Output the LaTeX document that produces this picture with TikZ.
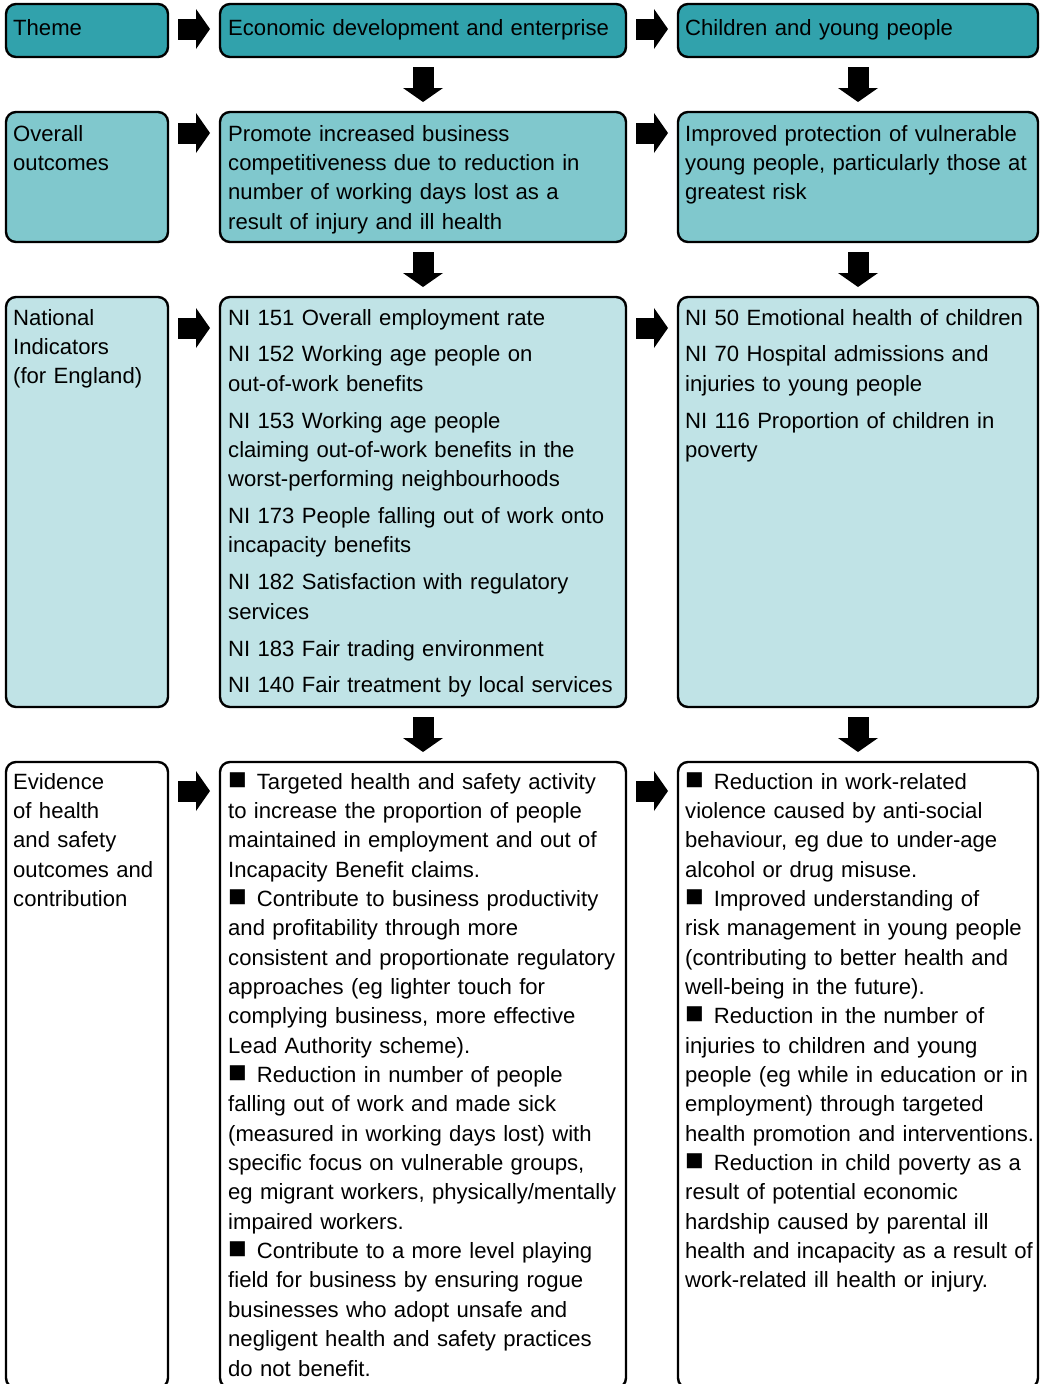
\documentclass[tikz,border=0pt]{standalone}
\usepackage{fontspec}
\setmainfont{Liberation Sans}
\usepackage{xcolor}
\usetikzlibrary{arrows.meta,positioning,calc}
\definecolor{hsteal}{HTML}{31A2AC}
\definecolor{hsmid}{HTML}{80C8CD}
\definecolor{hslight}{HTML}{C0E3E6}
\newcommand{\sqbul}{{\fontsize{31}{29.35}\selectfont ■}\hspace{10pt}}
\tikzset{
  cell/.style={draw=black, line width=2.4pt, rounded corners=10pt, inner sep=0pt, outer sep=0pt, anchor=north west},
  themebox/.style={cell, fill=hsteal, minimum height=53pt},
  outbox/.style={cell, fill=hsmid, minimum height=130pt},
  indbox/.style={cell, fill=hslight, minimum height=410pt},
  evbox/.style={cell, fill=white, minimum height=626pt},
  txt/.style={anchor=base west, inner sep=0pt, text width=420pt, align=left, font=\fontsize{22.1}{29.35}\selectfont},
  blk/.style={-{Triangle[length=14pt, width=40pt, line width=0pt]}, line width=21pt, shorten <=10pt, shorten >=10pt},
}

\begin{document}
\begin{tikzpicture}
  \useasboundingbox (0,0) rectangle (1040pt,-1384pt);
  % boxes, row by row
  \node[themebox, minimum width=162pt] (theme) at (6pt,-4pt) {};
  \node[themebox, minimum width=406pt, right=52pt of theme] (econ) {};
  \node[themebox, minimum width=360pt, right=52pt of econ] (child) {};
  \node[outbox, minimum width=162pt, below=55pt of theme] (outcomes) {};
  \node[outbox, minimum width=406pt, right=52pt of outcomes] (econout) {};
  \node[outbox, minimum width=360pt, right=52pt of econout] (childout) {};
  \node[indbox, minimum width=162pt, below=55pt of outcomes] (indic) {};
  \node[indbox, minimum width=406pt, right=52pt of indic] (econind) {};
  \node[indbox, minimum width=360pt, right=52pt of econind] (childind) {};
  \node[evbox, minimum width=162pt, below=55pt of indic] (evid) {};
  \node[evbox, minimum width=406pt, right=52pt of evid] (econev) {};
  \node[evbox, minimum width=360pt, right=52pt of econev] (childev) {};

  % texts
  \node[txt] (theme-t) at ($(theme.north west)+(7pt,-31pt)$) {Theme};
  \node[txt] (econ-t) at ($(econ.north west)+(8pt,-31pt)$) {Economic development and enterprise};
  \node[txt] (child-t) at ($(child.north west)+(7pt,-31pt)$) {Children and young people};

  \node[txt] (outcomes-t) at ($(outcomes.north west)+(7pt,-29pt)$) {Overall\\outcomes};
  \node[txt] (econout-t) at ($(econout.north west)+(8pt,-29pt)$) {Promote increased business\\competitiveness due to reduction in\\number of working days lost as a\\result of injury and ill health};
  \node[txt] (childout-t) at ($(childout.north west)+(7pt,-29pt)$) {Improved protection of vulnerable\\young people, particularly those at\\greatest risk};

  \node[txt] (indic-t) at ($(indic.north west)+(7pt,-28pt)$) {National\\Indicators\\(for England)};
  \node[txt] (econind-t) at ($(econind.north west)+(8pt,-28pt)$) {NI 151 Overall employment rate\\[7.5pt]
    NI 152 Working age people on\\out-of-work benefits\\[7.5pt]
    NI 153 Working age people\\claiming out-of-work benefits in the\\worst-performing neighbourhoods\\[7.5pt]
    NI 173 People falling out of work onto\\incapacity benefits\\[7.5pt]
    NI 182 Satisfaction with regulatory\\services\\[7.5pt]
    NI 183 Fair trading environment\\[7.5pt]
    NI 140 Fair treatment by local services};
  \node[txt] (childind-t) at ($(childind.north west)+(7pt,-28pt)$) {NI 50 Emotional health of children\\[7.5pt]
    NI 70 Hospital admissions and\\injuries to young people\\[7.5pt]
    NI 116 Proportion of children in\\poverty};

  \node[txt] (evid-t) at ($(evid.north west)+(7pt,-27pt)$) {Evidence\\of health\\and safety\\outcomes and\\contribution};
  \node[txt] (econev-t) at ($(econev.north west)+(8pt,-27pt)$) {\sqbul Targeted health and safety activity\\
    to increase the proportion of people\\maintained in employment and out of\\Incapacity Benefit claims.\\
    \sqbul Contribute to business productivity\\and profitability through more\\
    consistent and proportionate regulatory\\approaches (eg lighter touch for\\
    complying business, more effective\\Lead Authority scheme).\\
    \sqbul Reduction in number of people\\falling out of work and made sick\\
    (measured in working days lost) with\\specific focus on vulnerable groups,\\
    eg migrant workers, physically/mentally\\impaired workers.\\
    \sqbul Contribute to a more level playing\\field for business by ensuring rogue\\
    businesses who adopt unsafe and\\negligent health and safety practices\\do not benefit.};
  \node[txt] (childev-t) at ($(childev.north west)+(7pt,-27pt)$) {\sqbul Reduction in work-related\\
    violence caused by anti-social\\behaviour, eg due to under-age\\alcohol or drug misuse.\\
    \sqbul Improved understanding of\\risk management in young people\\
    (contributing to better health and\\well-being in the future).\\
    \sqbul Reduction in the number of\\injuries to children and young\\
    people (eg while in education or in\\employment) through targeted\\
    health promotion and interventions.\\
    \sqbul Reduction in child poverty as a\\result of potential economic\\
    hardship caused by parental ill\\health and incapacity as a result of\\
    work-related ill health or injury.};

  % arrows across
  \draw[blk] ($(theme.north east)+(0,-25pt)$) -- ($(econ.north west)+(0,-25pt)$);
  \draw[blk] ($(econ.north east)+(0,-25pt)$) -- ($(child.north west)+(0,-25pt)$);
  \draw[blk] ($(outcomes.north east)+(0,-21pt)$) -- ($(econout.north west)+(0,-21pt)$);
  \draw[blk] ($(econout.north east)+(0,-21pt)$) -- ($(childout.north west)+(0,-21pt)$);
  \draw[blk] ($(indic.north east)+(0,-31pt)$) -- ($(econind.north west)+(0,-31pt)$);
  \draw[blk] ($(econind.north east)+(0,-31pt)$) -- ($(childind.north west)+(0,-31pt)$);
  \draw[blk] ($(evid.north east)+(0,-29pt)$) -- ($(econev.north west)+(0,-29pt)$);
  \draw[blk] ($(econev.north east)+(0,-29pt)$) -- ($(childev.north west)+(0,-29pt)$);
  % arrows down
  \draw[blk] (econ) -- (econout);
  \draw[blk] (child) -- (childout);
  \draw[blk] (econout) -- (econind);
  \draw[blk] (childout) -- (childind);
  \draw[blk] (econind) -- (econev);
  \draw[blk] (childind) -- (childev);
\end{tikzpicture}
\end{document}
